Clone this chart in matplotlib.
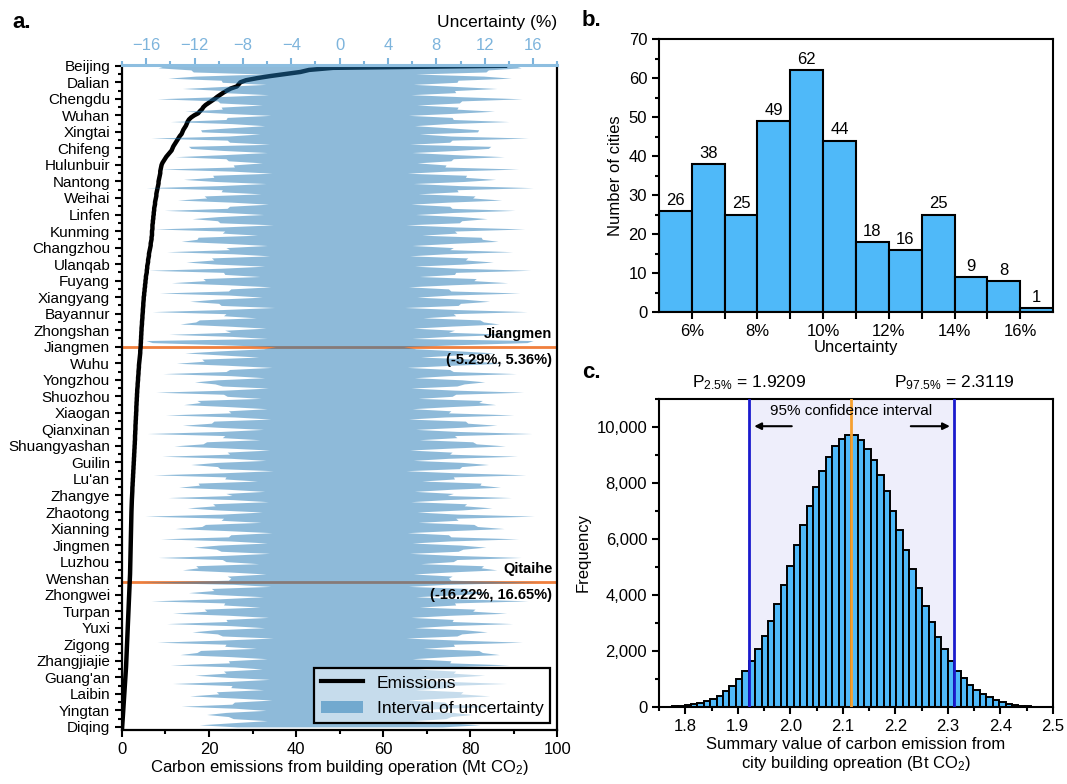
import numpy as np
import matplotlib
matplotlib.use('Agg')
import matplotlib.pyplot as plt
from matplotlib.ticker import MultipleLocator, FixedLocator, FuncFormatter
from matplotlib.lines import Line2D
from matplotlib.patches import Patch

plt.rcParams['font.family'] = ['Liberation Sans', 'DejaVu Sans']
plt.rcParams['mathtext.fontset'] = 'custom'
plt.rcParams['mathtext.rm'] = 'Liberation Sans'
plt.rcParams['mathtext.it'] = 'Liberation Sans:italic'
plt.rcParams['mathtext.bf'] = 'Liberation Sans:bold'

# ---- panel a data: 321 cities ranked by emissions (Mt CO2)
city_labels = ['Beijing', 'Dalian', 'Chengdu', 'Wuhan', 'Xingtai', 'Chifeng', 'Hulunbuir', 'Nantong',
               'Weihai', 'Linfen', 'Kunming', 'Changzhou', 'Ulanqab', 'Fuyang', 'Xiangyang', 'Bayannur',
               'Zhongshan', 'Jiangmen', 'Wuhu', 'Yongzhou', 'Shuozhou', 'Xiaogan', 'Qianxinan',
               'Shuangyashan', 'Guilin', "Lu'an", 'Zhangye', 'Zhaotong', 'Xianning', 'Jingmen', 'Luzhou',
               'Wenshan', 'Zhongwei', 'Turpan', 'Yuxi', 'Zigong', 'Zhangjiajie', "Guang'an", 'Laibin',
               'Yingtan', 'Diqing']

emissions = [
    88.0, 48.5, 43.0, 41.0, 37.5, 34.0, 31.0, 28.5, 27.2, 26.8,
    26.4, 25.0, 24.1, 23.3, 22.6, 21.9, 21.3, 20.6, 19.9, 19.2,
    18.7, 18.4, 17.9, 17.5, 16.6, 15.9, 15.4, 15.1, 14.9, 14.7,
    14.4, 14.1, 13.9, 13.7, 13.3, 13.0, 12.7, 12.4, 12.1, 11.8,
    11.6, 11.4, 11.0, 10.6, 10.2, 9.9, 9.6, 9.3, 9.1, 9.0,
    8.9, 8.8, 8.8, 8.7, 8.6, 8.5, 8.4, 8.4, 8.3, 8.2,
    8.1, 8.0, 7.9, 7.9, 7.8, 7.7, 7.6, 7.6, 7.5, 7.4,
    7.4, 7.3, 7.3, 7.2, 7.2, 7.1, 7.1, 7.0, 7.0, 7.0,
    6.9, 6.9, 6.9, 6.8, 6.8, 6.7, 6.6, 6.6, 6.5, 6.4,
    6.3, 6.2, 6.2, 6.1, 6.0, 6.0, 5.9, 5.8, 5.8, 5.7,
    5.7, 5.6, 5.5, 5.5, 5.4, 5.4, 5.3, 5.3, 5.2, 5.2,
    5.1, 5.1, 5.0, 5.0, 4.95, 4.9, 4.9, 4.85, 4.8, 4.8,
    4.75, 4.7, 4.7, 4.65, 4.6, 4.6, 4.55, 4.5, 4.5, 4.45,
    4.45, 4.4, 4.4, 4.35, 4.35, 4.3, 4.3, 4.25, 4.2, 4.2,
    4.15, 4.1, 4.05, 4.0, 3.95, 3.9, 3.9, 3.85, 3.8, 3.8,
    3.75, 3.7, 3.7, 3.65, 3.6, 3.6, 3.55, 3.5, 3.5, 3.45,
    3.45, 3.4, 3.4, 3.35, 3.35, 3.3, 3.3, 3.3, 3.25, 3.25,
    3.2, 3.2, 3.15, 3.15, 3.1, 3.1, 3.1, 3.05, 3.05, 3.0,
    3.0, 3.0, 2.95, 2.95, 2.9, 2.9, 2.85, 2.85, 2.8, 2.8,
    2.75, 2.75, 2.7, 2.7, 2.65, 2.65, 2.6, 2.6, 2.55, 2.55,
    2.5, 2.5, 2.45, 2.45, 2.4, 2.4, 2.38, 2.35, 2.33, 2.3,
    2.28, 2.26, 2.24, 2.22, 2.2, 2.19, 2.18, 2.17, 2.16, 2.15,
    2.14, 2.13, 2.12, 2.11, 2.1, 2.09, 2.08, 2.07, 2.06, 2.05,
    2.04, 2.03, 2.02, 2.01, 2.0, 1.99, 1.98, 1.97, 1.96, 1.95,
    1.94, 1.93, 1.92, 1.91, 1.9, 1.88, 1.86, 1.84, 1.82, 1.81,
    1.8, 1.78, 1.76, 1.74, 1.72, 1.7, 1.68, 1.66, 1.64, 1.62,
    1.6, 1.58, 1.56, 1.54, 1.52, 1.5, 1.48, 1.46, 1.44, 1.42,
    1.4, 1.38, 1.36, 1.34, 1.32, 1.3, 1.28, 1.26, 1.24, 1.22,
    1.2, 1.18, 1.16, 1.14, 1.12, 1.1, 1.08, 1.05, 1.02, 1.0,
    0.97, 0.94, 0.91, 0.88, 0.85, 0.82, 0.79, 0.76, 0.73, 0.7,
    0.67, 0.64, 0.61, 0.58, 0.55, 0.52, 0.49, 0.46, 0.43, 0.4,
    0.37, 0.34, 0.31, 0.28, 0.25, 0.22, 0.19, 0.16, 0.13, 0.1, 0.05]

# half width of the uncertainty interval per city (%)
uncertainty = [
    14.5, 15.0, 12.3, 12.1, 6.3, 11.9, 14.2, 9.8, 9.7, 6.1,
    9.6, 13.0, 9.5, 9.6, 5.9, 10.2, 15.1, 10.1, 9.9, 6.4,
    9.8, 9.7, 12.8, 9.5, 5.7, 9.3, 9.4, 14.0, 8.9, 6.2,
    9.0, 11.5, 11.4, 6.6, 9.2, 15.6, 9.3, 9.1, 5.8, 12.5,
    12.3, 9.6, 6.0, 9.5, 13.6, 9.4, 9.2, 6.4, 8.8, 8.7,
    14.8, 8.9, 5.6, 10.5, 10.4, 12.9, 10.3, 6.1, 9.9, 16.0,
    9.7, 9.8, 6.5, 11.2, 11.0, 13.4, 9.0, 5.9, 9.1, 9.3,
    14.5, 9.4, 6.3, 10.0, 12.2, 10.1, 9.9, 5.5, 9.6, 15.3,
    9.5, 9.7, 6.8, 11.7, 11.8, 13.1, 9.2, 6.0, 9.4, 9.1,
    14.3, 8.8, 5.8, 10.6, 10.4, 12.7, 10.2, 6.2, 9.8, 15.8,
    9.6, 9.5, 6.6, 11.3, 11.1, 13.9, 9.3, 5.7, 9.0, 9.2,
    14.9, 9.1, 6.4, 10.3, 12.4, 10.0, 9.8, 5.4, 9.7, 15.5,
    9.4, 9.6, 6.9, 11.6, 11.9, 13.2, 9.3, 6.1, 9.5, 9.0,
    14.1, 8.9, 6.0, 16.0, 15.5, 9.8, 5.3, 6.3, 9.9, 12.8,
    9.7, 6.7, 11.4, 11.2, 13.5, 9.2, 5.6, 9.1, 9.4, 14.6,
    9.0, 6.2, 10.1, 12.0, 10.3, 9.7, 5.9, 9.5, 15.2, 9.6,
    9.3, 6.5, 11.8, 11.5, 12.9, 9.1, 6.0, 9.2, 9.0, 14.4,
    8.7, 5.7, 10.4, 10.6, 13.0, 10.0, 6.3, 9.8, 15.9, 9.5,
    9.7, 6.6, 11.0, 11.3, 13.7, 9.4, 5.8, 9.3, 9.1, 14.7,
    9.0, 6.1, 10.2, 12.3, 10.1, 9.9, 5.5, 9.6, 15.4, 9.4,
    9.5, 6.8, 11.7, 11.6, 13.3, 9.2, 6.2, 9.4, 8.9, 14.2,
    8.8, 5.9, 10.5, 10.3, 12.6, 10.1, 6.4, 9.7, 16.1, 9.6,
    9.8, 6.5, 11.1, 11.4, 13.6, 9.3, 5.6, 9.0, 9.2, 14.8,
    9.1, 6.0, 10.0, 12.1, 10.2, 9.8, 5.8, 9.5, 15.0, 9.7,
    9.4, 6.7, 11.9, 11.7, 13.0, 9.2, 6.1, 9.3, 9.0, 9.2,
    16.4, 8.8, 5.7, 10.6, 10.4, 12.5, 10.0, 6.3, 9.9, 15.6,
    9.5, 9.6, 6.6, 11.2, 11.0, 13.8, 9.1, 5.9, 9.4, 9.3,
    14.3, 9.0, 6.2, 10.3, 12.2, 10.1, 9.7, 5.5, 9.8, 15.1,
    9.4, 9.5, 6.9, 11.5, 11.8, 13.2, 9.0, 6.0, 9.2, 9.1,
    14.0, 8.7, 6.4, 9.6, 9.4, 12.0, 9.3, 5.8, 9.1, 13.8,
    8.9, 9.0, 6.3, 10.2, 10.0, 12.4, 8.8, 5.6, 8.7, 8.9,
    13.1, 8.6, 6.1, 9.4, 11.0, 9.2, 8.8, 6.0, 8.9, 11.6, 8.5]

highlight_names = ['Jiangmen', 'Qitaihe']
highlight_rank = [136, 250]
highlight_text = ['(-5.29%, 5.36%)', '(-16.22%, 16.65%)']

# ---- panel b data
unc_bins = [5, 6, 7, 8, 9, 10, 11, 12, 13, 14, 15, 16]
city_counts = [26, 38, 25, 49, 62, 44, 18, 16, 25, 9, 8, 1]

# ---- panel c data
bin_start = 1.7498
bin_width = 0.01222
freq = [8, 15, 25, 40, 60, 90, 130, 200, 290, 410, 580, 760, 1000, 1294,
        1626, 2066, 2541, 3088, 3681, 4358, 5045, 5771, 6497, 7186, 7863, 8433, 8933, 9324, 9574, 9727,
        9727, 9527, 9217, 8803, 8268, 7709, 7007, 6319, 5617, 4915, 4240, 3609, 3052, 2517, 2078, 1651,
        1294, 1020, 796, 606, 463, 344, 249, 166, 118, 82, 50, 30, 18, 10]
p_low = 1.9209
p_high = 2.3119
p_median = 2.1164

fig = plt.figure(figsize=(10.67, 7.84), dpi=100)

# ================= panel a
ax = fig.add_axes([0.1143, 0.0689, 0.408, 0.848])
idx = np.arange(len(emissions))
ax.plot(emissions, idx, color='black', lw=3.2, zorder=2)
for r in highlight_rank:
    ax.axhline(r, color='#F07F3C', lw=2, zorder=1)
ax.set_xlim(0, 100)
ax.set_ylim(321.5, -0.3)
ax.set_yticks(idx[::8])
ax.set_yticklabels(city_labels)
ax.yaxis.set_minor_locator(FixedLocator(idx[4::8]))
ax.xaxis.set_major_locator(MultipleLocator(20))
ax.xaxis.set_minor_locator(MultipleLocator(10))
ax.spines['top'].set_visible(False)
for s in ['left', 'right', 'bottom']:
    ax.spines[s].set_linewidth(1.6)
ax.tick_params(which='both', direction='out', width=1.5, labelsize=11)
ax.tick_params(which='major', length=5)
ax.tick_params(which='minor', length=3)
ax.tick_params(axis='x', labelsize=12)
ax.set_xlabel('Carbon emissions from building operation (Mt CO$_2$)', fontsize=12, labelpad=1)

ax2 = ax.twiny()
unc = np.array(uncertainty)
ax2.fill_betweenx(idx, -unc, unc, color='#1f77b4', alpha=0.5, lw=0)
ax2.set_xlim(-18, 18)
ax2.xaxis.set_major_locator(MultipleLocator(4))
ax2.xaxis.set_minor_locator(MultipleLocator(2))
for s in ['left', 'right', 'bottom']:
    ax2.spines[s].set_visible(False)
ax2.spines['top'].set_color('#8DBEE0')
ax2.spines['top'].set_linewidth(2.2)
ax2.tick_params(axis='x', which='both', colors='#7DB4DC', direction='out', width=1.5, labelsize=12)
ax2.tick_params(axis='x', which='major', length=5)
ax2.tick_params(axis='x', which='minor', length=3)
ax2.set_xlabel('Uncertainty (%)', loc='right', fontsize=12.5, labelpad=8)

for name, r, t in zip(highlight_names, highlight_rank, highlight_text):
    ax2.text(17.6, r - 3, name, ha='right', va='bottom', fontsize=10.5, fontweight='bold')
    ax2.text(17.6, r + 3, t, ha='right', va='top', fontsize=10.5, fontweight='bold')

handles = [Line2D([0], [0], color='black', lw=3),
           Patch(facecolor='#1f77b4', alpha=0.5)]
leg = ax2.legend(handles, ['Emissions', 'Interval of uncertainty'], loc='lower right',
                 fontsize=12.5, fancybox=False, handlelength=2.4, borderaxespad=0.4,
                 labelspacing=0.6)
frame = leg.get_frame()
frame.set_alpha(None)
frame.set_facecolor((1, 1, 1, 0.5))
frame.set_edgecolor('black')
frame.set_linewidth(1.6)

# ================= panel b
bx = fig.add_axes([0.6176, 0.602, 0.3693, 0.348])
bx.bar(unc_bins, city_counts, width=1, align='edge', color='#4FB9F9', edgecolor='black', lw=1.5)
for b, c in zip(unc_bins, city_counts):
    bx.text(b + 0.5, c + 0.8, str(c), ha='center', va='bottom', fontsize=12)
bx.set_xlim(5, 17)
bx.set_ylim(0, 70)
bx.set_xticks([6, 8, 10, 12, 14, 16])
bx.set_xticklabels(['6%', '8%', '10%', '12%', '14%', '16%'])
bx.xaxis.set_minor_locator(FixedLocator([7, 9, 11, 13, 15]))
bx.yaxis.set_major_locator(MultipleLocator(10))
bx.yaxis.set_minor_locator(MultipleLocator(5))
for s in bx.spines.values():
    s.set_linewidth(1.5)
bx.tick_params(which='both', direction='out', width=1.5, labelsize=12)
bx.tick_params(axis='x', which='both', length=5)
bx.tick_params(axis='y', which='major', length=5)
bx.tick_params(axis='y', which='minor', length=3)
bx.set_xlabel('Uncertainty', fontsize=12, labelpad=1)
bx.set_ylabel('Number of cities', fontsize=12)

# ================= panel c
cx = fig.add_axes([0.6176, 0.0982, 0.3693, 0.393])
lefts = bin_start + bin_width * np.arange(len(freq))
cx.axvspan(p_low, p_high, color='#EEEEFB', zorder=0, lw=0)
cx.bar(lefts, freq, width=bin_width, align='edge', color='#4FB9F9', edgecolor='black', lw=1.4, zorder=2)
cx.axvline(p_low, color='#1A1ACD', lw=2, zorder=3)
cx.axvline(p_high, color='#1A1ACD', lw=2, zorder=3)
cx.axvline(p_median, color='#F5A030', lw=2, zorder=3)
cx.set_xlim(1.75, 2.5)
cx.set_ylim(0, 11000)
cx.xaxis.set_major_locator(MultipleLocator(0.1))
cx.xaxis.set_minor_locator(MultipleLocator(0.05))
cx.yaxis.set_major_locator(MultipleLocator(2000))
cx.yaxis.set_minor_locator(MultipleLocator(1000))
cx.yaxis.set_major_formatter(FuncFormatter(lambda v, p: '{:,.0f}'.format(v)))
for s in cx.spines.values():
    s.set_linewidth(1.5)
cx.tick_params(which='both', direction='out', width=1.5, labelsize=12)
cx.tick_params(which='major', length=5)
cx.tick_params(which='minor', length=3)
cx.set_xlabel('Summary value of carbon emission from\ncity building opreation (Bt CO$_2$)', fontsize=12, labelpad=2)
cx.set_ylabel('Frequency', fontsize=12)

trans = cx.get_xaxis_transform()
cx.text(p_low, 1.052, 'P$_{2.5\\%}$ = 1.9209', transform=trans, ha='center', va='center', fontsize=12.5)
cx.text(p_high, 1.052, 'P$_{97.5\\%}$ = 2.3119', transform=trans, ha='center', va='center', fontsize=12.5)
cx.text(2.116, 10570, '95% confidence interval', ha='center', va='center', fontsize=11)
cx.annotate('', xy=(1.926, 10025), xytext=(2.008, 10025),
            arrowprops=dict(arrowstyle='-|>', color='black', lw=1.5))
cx.annotate('', xy=(2.309, 10025), xytext=(2.224, 10025),
            arrowprops=dict(arrowstyle='-|>', color='black', lw=1.5))

fig.text(12 / 1067, 1 - 22 / 784, 'a.', fontsize=16, fontweight='bold', va='center')
fig.text(582 / 1067, 1 - 20 / 784, 'b.', fontsize=16, fontweight='bold', va='center')
fig.text(582 / 1067, 1 - 372 / 784, 'c.', fontsize=16, fontweight='bold', va='center')

fig.savefig('out.png', dpi=100)
